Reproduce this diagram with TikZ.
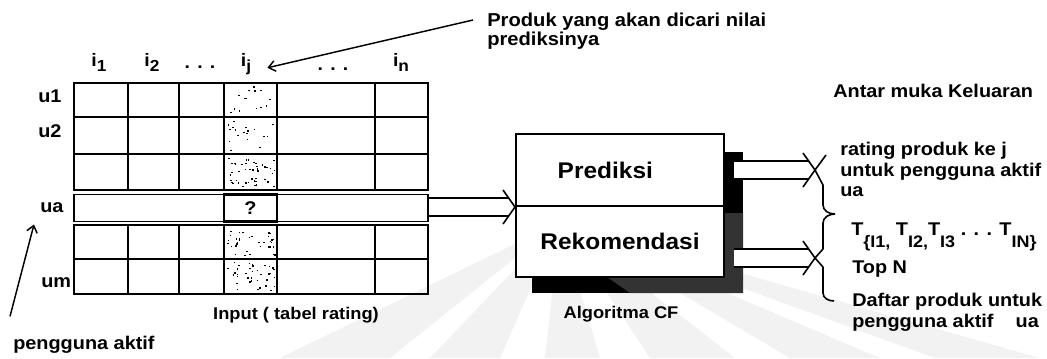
\documentclass[tikz,border=0pt]{standalone}
\usepackage{fontspec}
\newfontfamily\labfont[FakeStretch=1.08]{Liberation Sans}
\usetikzlibrary{arrows.meta,calc}
% lowered index text (item and result subscripts)
\newcommand\lowsub[1]{\raisebox{-4pt}{\fontsize{12}{12}\selectfont #1}}
\newcommand\lowT[1]{\raisebox{-9pt}{\fontsize{12.5}{12}\selectfont #1}}
% open block arrow from a tail point to a tip point at the same height
\newcommand\blockarrow[2]{%
  \fill[white] ($(#1)+(0,-9)$) rectangle ($(#2)+(-8,9)$);
  \draw[wire] ($(#1)+(0,-9)$) -- ($(#2)+(-7,-9)$);
  \draw[wire] ($(#1)+(0,9)$) -- ($(#2)+(-7,9)$);
  \draw[wire, line join=miter] ($(#2)+(-12,-17)$) -- (#2) -- ($(#2)+(-12,17)$);}
\begin{document}
\begin{tikzpicture}[x=0.75pt,y=-0.75pt,
  lab/.style={inner sep=0pt, font=\labfont\bfseries\fontsize{13.8}{15.4}\selectfont},
  hd/.style={lab, anchor=base, font=\labfont\bfseries\fontsize{13.5}{14}\selectfont},
  caplab/.style={lab, anchor=base, font=\labfont\bfseries\fontsize{12.7}{14}\selectfont},
  gridline/.style={line width=1.4pt},
  part/.style={draw, line width=1.5pt, fill=white, minimum width=156pt, inner sep=0pt,
    font=\labfont\bfseries\fontsize{17}{19}\selectfont},
  wire/.style={line width=1.2pt},
  pointer/.style={line width=1.1pt, -{Straight Barb[length=5pt,width=8pt]}}]
\useasboundingbox (0,0) rectangle (1047,358);

% faint background emblem
\foreach \a/\b in {280/390, 430/500, 545/600, 650/735, 790/880, 935/1040}
  \fill[black!5] (560,222) -- (\a,358) -- (\b,358) -- cycle;

% rating table: rows u1..u3
\draw[gridline] (74,83) rectangle (428,190);
\foreach \y in {117,154} \draw[gridline] (74,\y) -- (428,\y);
\foreach \x in {128,179,224,277,375} \draw[gridline] (\x,83) -- (\x,190);
% rows below the active user
\draw[gridline] (74,225) rectangle (428,294);
\draw[gridline] (74,259) -- (428,259);
\foreach \x in {128,179,224,277,375} \draw[gridline] (\x,225) -- (\x,294);

% speckled column of the target item
\pgfmathsetseed{42}
\foreach \ya/\yb/\n in {83/117/14, 117/154/18, 154/190/45, 225/259/35, 259/294/38}{
  \foreach \k in {1,...,\n}{
    \pgfmathsetmacro\dx{227+rnd*47}
    \pgfmathsetmacro\dy{\ya+3+rnd*(\yb-\ya-7)}
    \fill (\dx,\dy) rectangle ++(1.6,1.4);
  }
}

% active user row
\node[draw, line width=1pt, minimum width=265.5pt, minimum height=20.5pt, inner sep=0pt] (uarow) at (251,208) {};
\node[lab, draw, line width=2.2pt, minimum width=39.75pt, minimum height=20.5pt] (q) at (250.5,208) {?};

% column heads
\node[hd] (i1) at (99,66) {i\lowsub{1}};
\node[hd] (i2) at (152,66) {i\lowsub{2}};
\node[hd] (dots1) at (200,68) {. . .};
\node[hd] (ij) at (246,66) {i\lowsub{j}};
\node[hd] (dots2) at (333,70) {. . .};
\node[hd] (in) at (401,66) {i\lowsub{n}};

% row heads
\node[lab, anchor=base west] (u1) at (38,102) {u1};
\node[lab, anchor=base west] (u2) at (38,137) {u2};
\node[lab, anchor=base west] (ualab) at (40,212) {ua};
\node[lab, anchor=base west] (um) at (41,287) {um};

\node[caplab] (inlab) at (296,319) {Input ( tabel rating)};
\node[lab, anchor=base west] (pengguna) at (13,349) {pengguna aktif};
\draw[pointer] ($(pengguna.north west)+(-3,-19)$) -- ($(ualab.south west)+(-6,12)$);

\node[lab, font=\labfont\bfseries\fontsize{14}{12.8}\selectfont, align=left, anchor=north west]
  (produk) at (487,13) {Produk yang akan dicari nilai\\prediksinya};
\draw[pointer] ($(produk.north west)+(-14,7)$) -- ($(ij.east)+(16,4)$);

% CF algorithm block with its shadow
\fill (532,152) rectangle (743,293);
\fill[black!80] (724,213) -- (743,213) -- (743,293) -- (630,293) -- (607,277) -- (724,277) -- cycle;
\node[part, minimum height=54pt] (pred) at (620,170) {Prediksi\rule{22pt}{0pt}};
\node[part, minimum height=53.25pt] (rekom) at (620,241.5) {Rekomendasi};
\node[caplab] (algo) at (621,318) {Algoritma CF};

% flows
\coordinate (inTail) at (uarow.east |- pred.south west);
\blockarrow{inTail}{pred.south west}
\coordinate (pTail) at ($(pred.east)+(9,0)$);
\coordinate (pTip) at (815,170);
\blockarrow{pTail}{pTip}
\coordinate (rTail) at ($(rekom.east)+(9,16.5)$);
\coordinate (rTip) at (815,258);
\blockarrow{rTail}{rTip}

% braces grouping the outputs
\draw[wire, line join=round] (826,155) -- (pTip) -- (823,185) -- (823,205)
  to[out=270,in=180] (835,214);
\draw[wire, line join=round] (835,214) to[out=180,in=90] (823,223) -- (823,249)
  -- (rTip) -- (823,267) -- (823,293) to[out=270,in=180] (834,301);

% output interface
\node[lab, anchor=base west] (antar) at (833,97) {Antar muka Keluaran};
\node[lab, align=left, anchor=north west] (rate) at (840,142)
  {rating produk ke j\\untuk pengguna aktif\\ua};
\node[lab, anchor=base west] (tset) at (851,235)
  {T\lowT{\{I1,} T\lowT{I2,}T\lowT{I3} . . . T\lowT{IN\}}};
\node[lab, anchor=base west] (topn) at (852,273) {Top N};
\node[lab, align=left, anchor=north west] (daftar) at (852,293)
  {Daftar produk untuk\\pengguna aktif\hspace{1.2em}ua};
\end{tikzpicture}
\end{document}
